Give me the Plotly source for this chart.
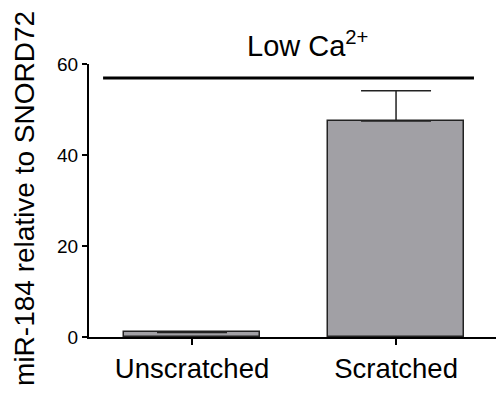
import plotly.graph_objects as go

categories = ["Unscratched", "Scratched"]
means = [1.0, 47.5]
err_up = [None, 6.6]
err_down = [None, 0.0]
y_ticks = [0, 20, 40, 60]
bracket_y = 56.9
bracket_x = [-0.436, 1.382]
condition_label = "Low Ca<sup>2+</sup>"
y_title = "miR-184 relative to SNORD72"

FONT = "Liberation Sans, Arial, sans-serif"

fig = go.Figure()
fig.add_trace(go.Bar(
    x=[0, 1], y=means, width=0.667,
    marker=dict(color="#a1a0a5", line=dict(color="#222222", width=1.5)),
    error_y=dict(type="data", symmetric=False, array=err_up, arrayminus=err_down,
                 color="#222222", thickness=1.5, width=35),
    showlegend=False, hoverinfo="skip",
))
fig.add_trace(go.Scatter(
    x=bracket_x, y=[bracket_y, bracket_y], mode="lines",
    line=dict(color="black", width=3), showlegend=False, hoverinfo="skip",
))

fig.update_layout(
    width=496, height=395,
    margin=dict(l=89, r=0, t=64, b=58),
    plot_bgcolor="white", paper_bgcolor="white",
    font=dict(family=FONT, color="black"),
    bargap=0,
)
fig.update_xaxes(
    range=[-0.505, 1.49], tickvals=[0, 1], ticktext=categories,
    showline=True, linecolor="black", linewidth=2,
    ticks="outside", ticklen=6, tickwidth=1.5, tickcolor="black",
    tickfont=dict(size=27.5, family=FONT), showgrid=False, zeroline=False,
)
fig.update_yaxes(
    range=[0, 60], tickvals=y_ticks,
    showline=True, linecolor="black", linewidth=2,
    ticks="outside", ticklen=5, tickwidth=1.5, tickcolor="black",
    tickfont=dict(size=19, family=FONT), showgrid=False, zeroline=False,
)
fig.add_annotation(
    text=condition_label, xref="paper", yref="paper",
    x=0.538, y=1.0, xanchor="center", yanchor="bottom",
    showarrow=False, font=dict(size=29, family=FONT),
)
fig.add_annotation(
    text=y_title, xref="paper", yref="paper",
    x=-0.16, y=0.509, xanchor="center", yanchor="middle", textangle=-90,
    showarrow=False, font=dict(size=28, family=FONT),
)

fig.write_html("out.html")
